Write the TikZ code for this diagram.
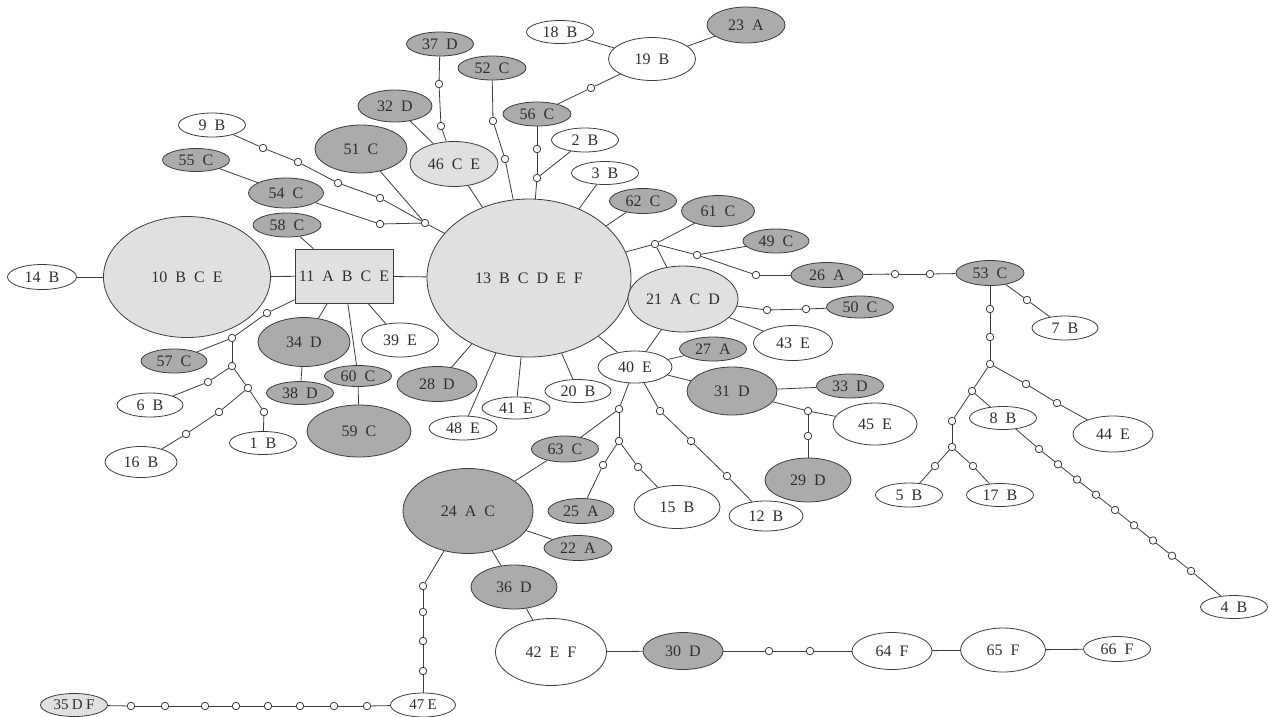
\documentclass[tikz,border=0pt]{standalone}
\usepackage{fontspec}
\setmainfont{Liberation Serif}
\usetikzlibrary{shapes.geometric,backgrounds}
\definecolor{linec}{HTML}{3C3C3C}
\definecolor{dkg}{HTML}{ABABAB}
\definecolor{ltg}{HTML}{E0E0E0}
\definecolor{txt}{HTML}{2E2E2E}
\newcommand\hlbl{\fontsize{16}{18}\selectfont\spaceskip=0.5em\relax}
\newcommand\hsml{\fontsize{15}{17}\selectfont\spaceskip=0.22em\relax}
\tikzset{
  hap/.style={ellipse, draw=linec, line width=0.8pt, inner sep=0pt, font=\hlbl, text=txt},
  dk/.style={hap, fill=dkg},
  lt/.style={hap, fill=ltg},
  wh/.style={hap, fill=white},
  sz/.style 2 args={minimum width=#1pt, minimum height=#2pt},
  mut/.style={circle, draw=linec, fill=white, line width=0.8pt, inner sep=0pt, minimum size=7.5pt},
  con/.style={draw=linec, line width=0.8pt},
}
\begin{document}
\begin{tikzpicture}[x=1pt,y=-1pt]
\useasboundingbox (0,0) rectangle (1269,716);

% ---------- light gray haplotypes ----------
\node[lt, sz={167}{121}] (n10) at (187,277) {10 B C E};
\node[rectangle, draw=linec, fill=ltg, line width=0.8pt, inner sep=0pt, font=\hlbl, text=txt, minimum width=98pt, minimum height=54pt] (n11) at (344,276) {11 A B C E};
\node[lt, sz={204}{158}] (n13) at (529,278) {13 B C D E F};
\node[lt, sz={88}{45}] (n46) at (454,164) {46 C E};
\node[lt, sz={110}{66}] (n21) at (683,299) {21 A C D};
\node[lt, sz={67}{23}, font=\hsml] (n35) at (74,705) {35 D F};

% ---------- white haplotypes ----------
\node[wh, sz={67}{24}] (n9) at (212,125) {9 B};
\node[wh, sz={69}{25}] (n14) at (42,277) {14 B};
\node[wh, sz={77}{34}] (n39) at (400,340) {39 E};
\node[wh, sz={66}{24}] (n6) at (150,405) {6 B};
\node[wh, sz={67}{23}] (n1) at (263,443) {1 B};
\node[wh, sz={72}{31}] (n16) at (141,462) {16 B};
\node[wh, sz={67}{23}] (n18) at (560,32) {18 B};
\node[wh, sz={87}{43}] (n19) at (652,59) {19 B};
\node[wh, sz={67}{24}] (n2) at (585,140) {2 B};
\node[wh, sz={67}{23}] (n3) at (605,173) {3 B};
\node[wh, sz={79}{35}] (n43) at (793,343) {43 E};
\node[wh, sz={74}{32}] (n40) at (635,367) {40 E};
\node[wh, sz={84}{42}] (n45) at (875,424) {45 E};
\node[wh, sz={66}{23}] (n20) at (578,391) {20 B};
\node[wh, sz={68}{22}] (n41) at (516,408) {41 E};
\node[wh, sz={68}{24}] (n48) at (463,428) {48 E};
\node[wh, sz={74}{30}] (n12) at (766,516) {12 B};
\node[wh, sz={86}{43}] (n15) at (677,507) {15 B};
\node[wh, sz={66}{24}] (n7) at (1065,328) {7 B};
\node[wh, sz={80}{36}] (n44) at (1113,434) {44 E};
\node[wh, sz={67}{23}] (n8) at (1003,418) {8 B};
\node[wh, sz={67}{24}] (n5) at (909,495) {5 B};
\node[wh, sz={67}{23}] (n17) at (1000,495) {17 B};
\node[wh, sz={67}{23}] (n4) at (1234,607) {4 B};
\node[wh, sz={111}{67}] (n42) at (551,652) {42 E F};
\node[wh, sz={65}{24}, font=\hsml] (n47) at (423,705) {47 E};
\node[wh, sz={80}{37}] (n64) at (892,651) {64 F};
\node[wh, sz={85}{44}] (n65) at (1003,650) {65 F};
\node[wh, sz={67}{25}] (n66) at (1117,649) {66 F};

% ---------- dark gray haplotypes ----------
\node[dk, sz={78}{36}] (n23) at (746,25) {23 A};
\node[dk, sz={67}{23}] (n55) at (196,160) {55 C};
\node[dk, sz={92}{48}] (n51) at (361,149) {51 C};
\node[dk, sz={75}{30}] (n54) at (286,193) {54 C};
\node[dk, sz={68}{24}] (n58) at (287,225) {58 C};
\node[dk, sz={92}{49}] (n34) at (304,342) {34 D};
\node[dk, sz={66}{24}] (n57) at (174,361) {57 C};
\node[dk, sz={67}{21}] (n60) at (358,376) {60 C};
\node[dk, sz={67}{23}] (n38) at (300,393) {38 D};
\node[dk, sz={104}{52}] (n59) at (359,431) {59 C};
\node[dk, sz={67}{24}] (n37) at (440,44) {37 D};
\node[dk, sz={68}{24}] (n52) at (492,68) {52 C};
\node[dk, sz={74}{32}] (n32) at (395,106) {32 D};
\node[dk, sz={68}{24}] (n56) at (537,114) {56 C};
\node[dk, sz={67}{25}] (n62) at (643,201) {62 C};
\node[dk, sz={73}{31}] (n61) at (718,211) {61 C};
\node[dk, sz={66}{24}] (n49) at (776,241) {49 C};
\node[dk, sz={72}{25}] (n26) at (827,275) {26 A};
\node[dk, sz={67}{22}] (n50) at (860,307) {50 C};
\node[dk, sz={67}{24}] (n27) at (713,349) {27 A};
\node[dk, sz={90}{48}] (n31) at (732,391) {31 D};
\node[dk, sz={67}{24}] (n33) at (850,386) {33 D};
\node[dk, sz={86}{44}] (n29) at (808,480) {29 D};
\node[dk, sz={80}{35}] (n28) at (437,384) {28 D};
\node[dk, sz={67}{26}] (n63) at (565,449) {63 C};
\node[dk, sz={130}{85}] (n24) at (468,511) {24 A C};
\node[dk, sz={66}{25}] (n25) at (581,511) {25 A};
\node[dk, sz={68}{25}] (n22) at (578,548) {22 A};
\node[dk, sz={86}{44}] (n36) at (514,587) {36 D};
\node[dk, sz={80}{37}] (n30) at (683,651) {30 D};
\node[dk, sz={68}{25}] (n53) at (990,273) {53 C};

% ---------- mutation steps and median points ----------
\foreach \nm/\x/\y in {
  a1/263/148, a2/298/162, a3/338/183, a4/380/198, J1/425/223, b1/380/224,
  c1/267/313, J2/232/338, J3/232/366, c6/208/382, J4/248/388, c1b/264/412,
  c16a/219/412, c16b/186/434,
  d1/439/84, d2/441/126, e1/493/121, e2/505/159, f1/537/149, J5/537/178, g1/591/88,
  J6/655/244, h1/697/255, h2/756/275, h3/895/274, h4/930/274,
  i1/1027/300, k1/990/309, k2/990/337, J7/990/364, l1/1026/384, l2/1057/403,
  J8/972/391, m1/952/421, J9/952/447, m2/935/466, m3/973/466,
  o1/767/310, o2/806/309,
  J10/808/411, q1/808/436, r1/660/411, r2/691/441, r3/727/476,
  J11/619/409, J12/619/441, s1/603/465, s2/638/467,
  t1/769/651, t2/810/651,
  u1/423/586, u2/423/612, u3/423/641, u4/423/671,
  v1/131/706, v2/165/706, v3/205/706, v4/236/706, v5/268/706, v6/300/706, v7/334/706, v8/367/706}
  \node[mut] (\nm) at (\x,\y) {};
\foreach \k in {1,...,9}
  \node[mut] (p\k) at ({1039+19*(\k-1)},{449+15.25*(\k-1)}) {};

% ---------- connectors ----------
\begin{pgfonlayer}{background}
\fill[white] (0,0) rectangle (1269,716);
\foreach \a/\b in {
  n9/a1, a1/a2, a2/a3, a3/a4, a4/J1, n55/n54, n54/b1, b1/J1, n51/J1, J1/n13,
  n14/n10, n10/n11, n11/n13, n58/n11, n11/n34, n11/n60, n11/n39, n34/n38, n60/n59,
  n11/c1, c1/J2, J2/n57, J2/J3, J3/c6, c6/n6, J3/J4, J4/c1b, c1b/n1, J4/c16a, c16a/c16b, c16b/n16,
  n37/d1, d1/d2, d2/n46, n32/n46, n46/n13,
  n52/e1, e1/e2, e2/n13,
  n56/f1, f1/J5, J5/n13, n2/J5, n19/g1, g1/n56, n18/n19, n19/n23,
  n3/n13, n62/n13,
  n13/J6, J6/n61, J6/n21, J6/h1, h1/n49, h1/h2, h2/n26, n26/h3, h3/h4, h4/n53,
  n53/i1, i1/n7, n53/k1, k1/k2, k2/J7, J7/l1, l1/l2, l2/n44,
  J7/J8, J8/n8, J8/m1, m1/J9, J9/m2, m2/n5, J9/m3, m3/n17,
  n8/p1, p1/p2, p2/p3, p3/p4, p4/p5, p5/p6, p6/p7, p7/p8, p8/p9, p9/n4,
  n21/o1, o1/o2, o2/n50, n21/n43, n21/n40,
  n13/n40, n13/n20, n13/n41, n13/n48, n13/n28,
  n40/n27, n40/n31, n31/n33, n31/J10, J10/n45, J10/q1, q1/n29,
  n40/r1, r1/r2, r2/r3, r3/n12,
  n40/J11, J11/n63, J11/J12, J12/s1, s1/n25, J12/s2, s2/n15,
  n63/n24, n24/n22, n24/n36, n36/n42, n42/n30, n30/t1, t1/t2, t2/n64, n64/n65, n65/n66,
  n24/u1, u1/u2, u2/u3, u3/u4, u4/n47,
  n47/v8, v8/v7, v7/v6, v6/v5, v5/v4, v4/v3, v3/v2, v2/v1, v1/n35}
  \draw[con] (\a) -- (\b);
\end{pgfonlayer}
\end{tikzpicture}
\end{document}
